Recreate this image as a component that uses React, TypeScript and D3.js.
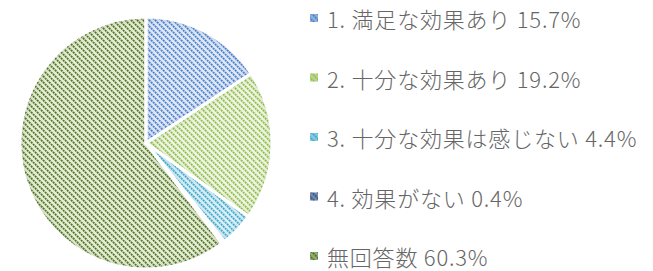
import React from "react";
import * as d3 from "d3";

const categories = ["1. 満足な効果あり", "2. 十分な効果あり", "3. 十分な効果は感じない", "4. 効果がない", "無回答数"];
const values = [15.7, 19.2, 4.4, 0.4, 60.3];
const valueLabels = ["15.7%", "19.2%", "4.4%", "0.4%", "60.3%"];
const bgColors = ["#dfe8f6", "#eef4e2", "#daeff6", "#c9d3e3", "#e5edd2"];
const fgColors = ["#4a7fcb", "#8fbd48", "#3fa9cd", "#2f4f80", "#50732a"];

const W = 653;
const H = 271;
const cx = 146;
const cy = 143;
const R = 126;

export default function App() {
  const pie = d3.pie<number>().sort(null).startAngle(0).endAngle(2 * Math.PI);
  const arcs = pie(values);
  const arc = d3.arc<d3.PieArcDatum<number>>().innerRadius(0).outerRadius(R);
  const legendY = d3.scalePoint<number>().domain(d3.range(categories.length)).range([18, 256]);

  return (
    <svg width={W} height={H} style={{ position: "absolute", left: 0, top: 0 }}>
      <defs>
        {fgColors.map((c, i) => (
          <pattern key={i} id={`pat${i}`} patternUnits="userSpaceOnUse" width={6} height={6}>
            <rect width={6} height={6} fill={bgColors[i]} />
            <path
              d="M-1,-1 L7,7 M-1,5 L1,7 M5,-1 L7,1"
              stroke={c}
              strokeWidth={1.7}
              strokeDasharray="2,0.8"
            />
          </pattern>
        ))}
        {fgColors.map((c, i) => (
          <filter key={i} id={`inner${i}`} x="-10%" y="-10%" width="120%" height="120%">
            <feComponentTransfer in="SourceAlpha" result="inv">
              <feFuncA type="table" tableValues="1 0" />
            </feComponentTransfer>
            <feGaussianBlur in="inv" stdDeviation={4} result="blur" />
            <feFlood floodColor={c} floodOpacity={0.55} result="col" />
            <feComposite in="col" in2="blur" operator="in" result="sh" />
            <feComposite in="sh" in2="SourceAlpha" operator="in" result="shIn" />
            <feMerge>
              <feMergeNode in="SourceGraphic" />
              <feMergeNode in="shIn" />
            </feMerge>
          </filter>
        ))}
      </defs>
      <g transform={`translate(${cx},${cy})`}>
        {arcs.map((a, i) => (
          <path key={i} d={arc(a) || ""} fill={`url(#pat${i})`} filter={`url(#inner${i})`} />
        ))}
        {arcs.map((a, i) => (
          <path key={"s" + i} d={arc(a) || ""} fill="none" stroke="#ffffff" strokeWidth={3} strokeLinejoin="miter" />
        ))}
      </g>
      <g>
        {categories.map((c, i) => (
          <g key={i} transform={`translate(310,${legendY(i)})`}>
            <rect x={0} y={-4} width={8} height={8} fill={`url(#pat${i})`} />
            <rect x={0} y={-4} width={8} height={8} fill={fgColors[i]} fillOpacity={0.55} />
            <text
              x={17}
              y={0}
              dominantBaseline="central"
              fontFamily="'Noto Sans CJK JP', sans-serif"
              fontWeight={300}
              fontSize={22}
              letterSpacing={0.8}
              fill="#666666"
            >
              {`${c} ${valueLabels[i]}`}
            </text>
          </g>
        ))}
      </g>
    </svg>
  );
}
